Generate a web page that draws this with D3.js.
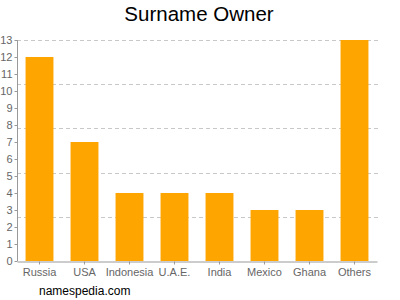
<!DOCTYPE html>
<html><head><meta charset="utf-8">
<script src="https://cdn.jsdelivr.net/npm/d3@7"></script>
<style>body{margin:0;background:#fff}svg{display:block}</style>
</head><body>
<svg id="c" width="400" height="300"></svg>
<script>
const categories = ["Russia","USA","Indonesia","U.A.E.","India","Mexico","Ghana","Others"];
const values = [12,7,4,4,4,3,3,13];
const yTicks = [0,1,2,3,4,5,6,7,8,9,10,11,12,13];
const gridValues = [2.6,5.2,7.8,10.4,13];

const svg = d3.select("#c");
const font = "Liberation Sans, Arial, sans-serif";
const m = {left:17, right:23, top:40, bottom:39};
const W = 400, H = 300;
const x = d3.scaleBand().domain(categories).range([m.left, W-m.right]).paddingInner(0.38).paddingOuter(0.19);
const y = d3.scaleLinear().domain([0,13]).range([H-m.bottom, m.top]);

svg.append("text").attr("x",199).attr("y",21).attr("text-anchor","middle")
  .attr("font-family",font).attr("font-size",20.5).attr("fill","#000").text("Surname Owner");

svg.append("g").selectAll("line").data(gridValues).join("line")
  .attr("x1",m.left).attr("x2",W-m.right+2)
  .attr("y1",d=>Math.round(y(d))+0.5).attr("y2",d=>Math.round(y(d))+0.5)
  .attr("stroke","#c8c8c8").attr("stroke-dasharray","4,3");

svg.append("g").selectAll("rect").data(values).join("rect")
  .attr("x",(d,i)=>x(categories[i])).attr("width",x.bandwidth())
  .attr("y",d=>y(d)).attr("height",d=>y(0)-y(d)).attr("fill","#FFA500");

const ya = svg.append("g").attr("transform",`translate(${m.left+0.5},0)`)
  .call(d3.axisLeft(y).tickValues(yTicks).tickSize(3).tickPadding(2).tickFormat(d3.format("d")));
const xa = svg.append("g").attr("transform",`translate(0,${y(0)+0.5})`)
  .call(d3.axisBottom(x).tickSize(3).tickPadding(4).tickSizeOuter(0));
[ya,xa].forEach(a=>{
  a.select(".domain").attr("stroke","#999");
  a.selectAll(".tick line").attr("stroke","#999");
  a.selectAll("text").attr("fill","#666").attr("font-family",font).attr("font-size",11);
});
ya.select(".domain").attr("d",`M0,${y(13)}V${y(0)}`);

svg.append("text").attr("x",39).attr("y",295).attr("font-family",font).attr("font-size",12)
  .attr("fill","#000").text("namespedia.com");
</script>
</body></html>
